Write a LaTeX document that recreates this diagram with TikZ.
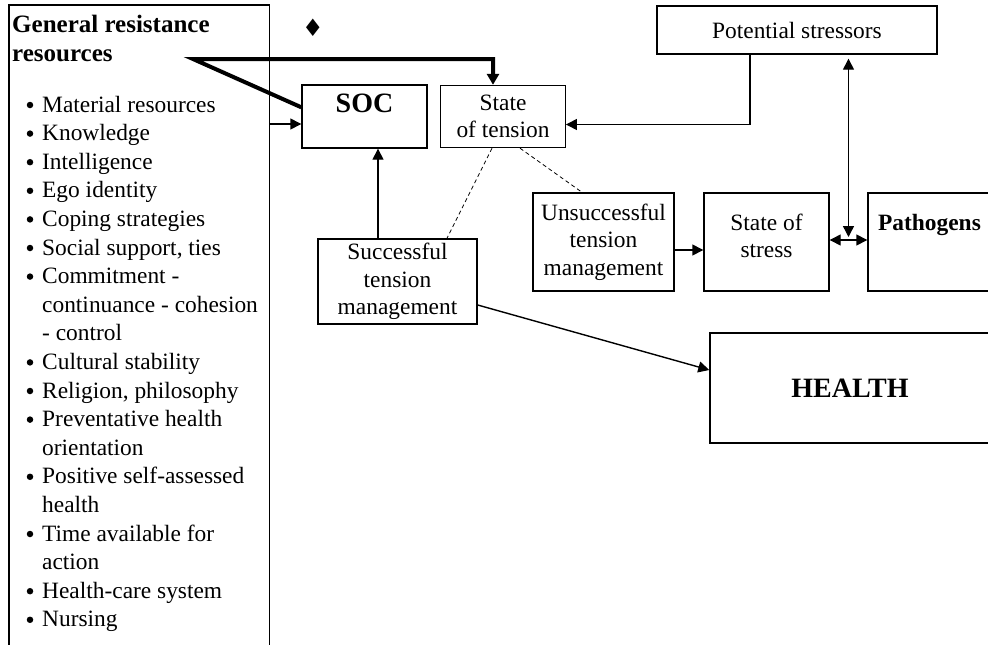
\documentclass[tikz,border=0pt]{standalone}
\usepackage{fontspec}
\setmainfont{Liberation Serif}
\newfontfamily\symfnt{DejaVu Sans}
\usetikzlibrary{arrows.meta,calc}
\begin{document}
\begin{tikzpicture}[x=1pt,y=-1pt,
  box/.style={draw, line width=1.4pt, inner sep=0pt, align=center, font=\fontsize{23.4}{27.5}\selectfont},
  txt/.style={inner sep=0pt, align=center, font=\fontsize{23.4}{27.5}\selectfont},
  item/.style={inner sep=0pt, anchor=base west, font=\fontsize{23.4}{28}\selectfont},
  bul/.style={circle, fill, inner sep=0pt, minimum size=6.5pt},
  conn/.style={line width=1.4pt, -{Triangle[length=11pt,width=11pt]}},
  dconn/.style={line width=1.4pt, {Triangle[length=11pt,width=11pt]}-{Triangle[length=11pt,width=11pt]}},
  heavy/.style={line width=4pt, -{Triangle[length=11pt,width=12pt]}},
  dashln/.style={line width=0.8pt, dash pattern=on 4pt off 3pt}]
\useasboundingbox (0,0) rectangle (988,645);

% left box (open at the bottom, runs off the page)
\node[box, minimum width=260.5pt, minimum height=655pt] (grr) at (139.25,332.5) {};
\node[inner sep=0pt, anchor=base west, font=\bfseries\fontsize{25}{29}\selectfont] (t1) at (12,32) {General resistance};
\node[inner sep=0pt, anchor=base west, font=\bfseries\fontsize{25}{29}\selectfont] (t2) at (12,61) {resources};
\coordinate (gcorner) at (193,59);

\foreach \t [count=\i from 0] in {
  Material resources, Knowledge, Intelligence, Ego identity,
  Coping strategies, {Social support, ties}, Commitment -,
  continuance - cohesion, - control, Cultural stability,
  {Religion, philosophy}, Preventative health, orientation,
  Positive self-assessed, health, Time available for, action,
  Health-care system, Nursing} {
  \node[item] (it\i) at (42, 112+28.6*\i) {\t};
}
\foreach \i in {0,1,2,3,4,5,6,9,10,11,13,15,17,18} {
  \node[bul] (b\i) at (30, 105+28.6*\i) {};
}

\node[inner sep=0pt, font=\symfnt\fontsize{24}{24}\selectfont] (diam) at (313,28) {♦};

% boxes
\node[box, minimum width=125pt, minimum height=63pt] (soc) at (364.5,116.5) {};
\node[txt, font=\bfseries\fontsize{28}{32}\selectfont] (soct) at (364.5,103) {SOC};
\node[box, minimum width=124.5pt, minimum height=62pt] (ten) at (503,116.5) {State\\of tension};
\node[box, minimum width=280pt, minimum height=48pt] (pot) at (797,30) {Potential stressors};
\node[box, minimum width=141pt, minimum height=98pt] (uns) at (603.5,242) {Unsuccessful\\tension\\management};
\node[box, minimum width=125pt, minimum height=98pt] (sts) at (766.5,242) {};
\node[txt] (stst) at (766.5,236) {State of\\stress};
\node[box, minimum width=123pt, minimum height=98pt] (pat) at (929.5,242) {};
\node[inner sep=0pt, anchor=base, font=\bfseries\fontsize{23.4}{27.5}\selectfont] (patt) at (929.5,230) {Pathogens};
\node[box, minimum width=159pt, minimum height=85pt] (suc) at (397.5,281.5) {Successful\\tension\\management};
\node[box, minimum width=280pt, minimum height=110pt, font=\bfseries\fontsize{28}{32}\selectfont] (hea) at (850,388) {HEALTH};

% connectors
\draw[heavy] ([yshift=-23pt]soc.north west) -- (gcorner) -| ([xshift=-10pt]ten.north);
\coordinate (a1) at ([yshift=-7.5pt]soc.west);
\draw[conn] (grr.east |- a1) -- (a1);
\draw[conn] ([xshift=-47pt]pot.south) |- ([yshift=-8pt]ten.east);
\coordinate (mid) at ($(sts.east)!0.5!(pat.west)+(0,-2)$);
\draw[dconn] (sts.east |- mid) -- (pat.west |- mid);
\draw[dconn] ([yshift=-4pt]pot.south -| mid) -- ([yshift=3pt]mid);
\draw[conn] ([yshift=-8pt]uns.east) -- ([yshift=-8pt]sts.west);
\coordinate (a2) at ([xshift=13.5pt]soc.south);
\draw[conn] (suc.north -| a2) -- (a2);
\draw[dashln] ([xshift=-11pt]ten.south) -- ([xshift=49.5pt]suc.north);
\draw[dashln] ([xshift=17pt]ten.south) -- ([xshift=-21.5pt]uns.north);
\draw[conn] ([yshift=-23.5pt]suc.east) -- ([yshift=18pt]hea.west);
\end{tikzpicture}
\end{document}
